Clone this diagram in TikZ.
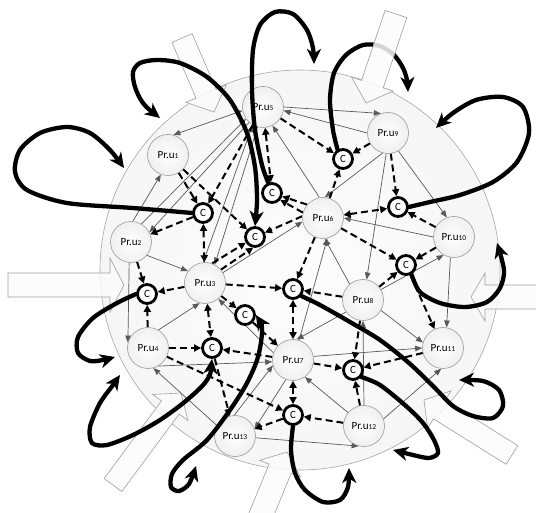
\documentclass[tikz,border=0pt]{standalone}
\usepackage{fontspec}
\setmainfont{Carlito}
\usetikzlibrary{arrows.meta,calc}
\pgfdeclarelayer{bg}
\pgfdeclarelayer{edges}
\pgfdeclarelayer{fg}
\pgfsetlayers{bg,edges,main,fg}
\newcommand{\pr}[1]{Pr.u{\fontsize{7.5}{8}\selectfont #1}}
\newcommand{\blockarr}[5]{%
  \path (#1) coordinate (bt) (#2) coordinate (bh);
  \path ($(bh)!#5pt!(bt)$) coordinate (bb);
  \draw[blk] ($(bt)!#3pt!90:(bh)$) -- ($(bb)!#3pt!-90:(bt)$) -- ($(bb)!#4pt!-90:(bt)$) -- (bh)
    -- ($(bb)!#4pt!90:(bt)$) -- ($(bb)!#3pt!90:(bt)$) -- ($(bt)!#3pt!-90:(bh)$) -- cycle;}
\tikzset{
  pnode/.style={circle, draw=gray!80, line width=0.6pt, minimum size=41pt, inner sep=0pt,
    inner color=white, outer color=gray!12, font=\fontsize{11}{12}\selectfont},
  cnode/.style={circle, draw=black, line width=2.8pt, minimum size=19pt, inner sep=0pt,
    fill=white, font=\fontsize{11}{11}\selectfont},
  garr/.style={draw=black!65, line width=0.7pt, -{Triangle[length=7pt,width=5.5pt]}},
  garrb/.style={garr, {Triangle[length=7pt,width=5.5pt]}-{Triangle[length=7pt,width=5.5pt]}},
  darr/.style={draw=black, line width=2pt, dash pattern=on 7pt off 4pt,
    -{Triangle[length=7pt,width=7pt]}},
  darrb/.style={darr, {Triangle[length=7pt,width=7pt]}-{Triangle[length=7pt,width=7pt]}},
  thk/.style={draw=black, line width=4.3pt, line cap=round, -{Stealth[length=15pt,width=14pt,inset=4.5pt]}},
  thkb/.style={thk, {Stealth[length=15pt,width=14pt,inset=4.5pt]}-{Stealth[length=15pt,width=14pt,inset=4.5pt]}},
  blk/.style={draw=gray!75, line width=0.6pt, fill=gray!3, fill opacity=0.85},
}
\begin{document}
\begin{tikzpicture}[x=1pt,y=-1pt]
\useasboundingbox (0,0) rectangle (536,513);
% nodes
\node[pnode] (u1) at (168,155) {\pr{1}};
\node[pnode] (u2) at (131,242) {\pr{2}};
\node[pnode] (u3) at (205,283) {\pr{3}};
\node[pnode] (u4) at (148,348) {\pr{4}};
\node[pnode] (u5) at (263,107) {\pr{5}};
\node[pnode] (u6) at (323,218) {\pr{6}};
\node[pnode] (u7) at (293,360) {\pr{7}};
\node[pnode] (u8) at (363,300) {\pr{8}};
\node[pnode] (u9) at (388,133) {\pr{9}};
\node[pnode] (u10) at (454,237) {\pr{10}};
\node[pnode] (u11) at (443,348) {\pr{11}};
\node[pnode] (u12) at (364,426) {\pr{12}};
\node[pnode] (u13) at (235,436) {\pr{13}};
\node[cnode] (c1) at (203,213) {C};
\node[cnode] (c2) at (255,237) {C};
\node[cnode] (c3) at (272,193) {C};
\node[cnode] (c4) at (343,159) {C};
\node[cnode] (c5) at (398,207) {C};
\node[cnode] (c6) at (406,265) {C};
\node[cnode] (c7) at (293,289) {C};
\node[cnode] (c8) at (147,294) {C};
\node[cnode] (c9) at (245,315) {C};
\node[cnode] (c10) at (212,348) {C};
\node[cnode] (c11) at (353,370) {C};
\node[cnode] (c12) at (293,415) {C};
% background
\begin{pgfonlayer}{bg}
\shade[inner color=gray!2, outer color=gray!7, draw=gray!70, line width=0.6pt] (300,270) circle [radius=200];
\blockarr{182,38}{214,112}{11}{22}{20}
\blockarr{8,285}{124,285}{12}{27}{14}
\blockarr{540,297}{471,297}{12}{24}{14}
\blockarr{512,455}{424,400}{11}{22}{18}
\blockarr{257,525}{287,452}{12}{22}{18}
\blockarr{113,485}{181,393}{11}{22}{18}
\end{pgfonlayer}
% edges
\begin{pgfonlayer}{edges}
\draw[garrb] (u5.190) -- (u1.75);
\draw[garr] (u2.85) -- (u1.250);
\draw[garr] (u2.60) -- (u5.215);
\draw[garr] (u5.228) -- (u2.28);
\draw[garr] (u3.95) -- (u5.240);
\draw[garr] (u5.255) -- (u3.62);
\draw[garr] (u5.0) -- (u9.110);
\draw[garr] (u9.180) -- (u5.-10);
\draw[garr] (u6.100) -- (u5.-63);
\draw[garr] (u9.-105) -- (u6.85);
\draw[garr] (u9.-60) -- (u10.110);
\draw[garr] (u9.-95) -- (u8.80);
\draw[garr] (u10.180) -- (u6.0);
\draw[garr] (u8.130) -- (u6.-85);
\draw[garr] (u7.73) -- (u6.-78);
\draw[garr] (u3.30) -- (u6.190);
\draw[garr] (u8.30) -- (u10.-120);
\draw[garr] (u10.-100) -- (u11.80);
\draw[garr] (u8.215) -- (u7.80);
\draw[garr] (u8.-30) -- (u11.165);
\draw[garr] (u7.10) -- (u11.180);
\draw[garr] (u12.90) -- (u8.-90);
\draw[garr] (u12.140) -- (u7.-55);
\draw[garr] (u12.20) -- (u11.-95);
\draw[garr] (u13.-5) -- (u12.-105);
\draw[garr] (u13.92) -- (u7.195);
\draw[garr] (u7.-110) -- (u13.20);
\draw[garr] (u13.150) -- (u4.-75);
\draw[garr] (u4.-60) -- (u7.185);
\draw[garr] (u4.60) -- (u3.255);
\draw[garr] (u2.-95) -- (u4.165);
\draw[garr] (u2.-40) -- (u3.145);
\draw[garr] (u7.160) -- (u3.-50);
% dashed
\draw[darr] (u1) -- (c1);
\draw[darr] (u5) -- (c1);
\draw[darrb] (c1) -- (u3);
\draw[darr] (c1) -- (u2);
\draw[darr] (u1) -- (c2);
\draw[darr] (u3.70) -- (c2);
\draw[darr] (u3.40) -- (c2.-100);
\draw[darr] (u6.175) -- (c2);
\draw[darrb] (u5) -- (c3);
\draw[darr] (u6.140) -- (c3);
\draw[darr] (u6.165) -- (c3.-40);
\draw[darr] (u5) -- (c4);
\draw[darr] (u9) -- (c4);
\draw[darr] (u6) -- (c4);
\draw[darr] (u9) -- (c5);
\draw[darrb] (u6) -- (c5);
\draw[darr] (u10) -- (c5);
\draw[darr] (u6) -- (c6);
\draw[darr] (u10) -- (c6);
\draw[darr] (u8) -- (c6);
\draw[darr] (c6) -- (u11);
\draw[darr] (u6) -- (c7);
\draw[darr] (u8) -- (c7);
\draw[darr] (u3) -- (c7);
\draw[darrb] (c7) -- (u7);
\draw[darr] (u2) -- (c8);
\draw[darr] (u3) -- (c8);
\draw[darr] (u4) -- (c8);
\draw[darr] (u3) -- (c9);
\draw[darr] (c9) -- (u7);
\draw[darr] (u4) -- (c10);
\draw[darrb] (u3) -- (c10);
\draw[darr] (u7) -- (c10);
\draw[darr] (c10) -- (u13);
\draw[darr] (u7) -- (c11);
\draw[darr] (u11) -- (c11);
\draw[darr] (u8) -- (c11);
\draw[darr] (u12) -- (c11);
\draw[darr] (u12) -- (c12);
\draw[darrb] (u7) -- (c12);
\draw[darr] (c12) -- (u13);
\draw[darr] (u4) -- (c12);
\end{pgfonlayer}
% thick loops
\begin{pgfonlayer}{fg}
\coordinate (ta) at (124,168);
\coordinate (tb) at (160,118);
\coordinate (tc) at (314,64);
\coordinate (td) at (408,92);
\coordinate (te) at (436,128);
\coordinate (tf) at (497,243);
\coordinate (tg) at (459,380);
\coordinate (th) at (393,450);
\coordinate (ti) at (349,468);
\coordinate (tj) at (196,466);
\coordinate (tk) at (120,375);
\coordinate (tl) at (115,357);
\draw[thk] plot[smooth] coordinates {(c1.west) (133,208) (67,203) (27,190) (15,172) (20,150) (40,133) (67,127) (90,133) (110,150) (ta)};
\draw[thkb] plot[smooth] coordinates {(tb) (143,103) (135,87) (133,72) (140,63) (157,60) (180,63) (207,77) (230,100) (247,133) (255,167) (257,200) (c2.north)};
\draw[thk] plot[smooth] coordinates {(c3.110) (262,165) (255,130) (252,90) (253,50) (260,25) (275,12) (293,14) (307,30) (313,48) (tc)};
\draw[thk] plot[smooth] coordinates {(c4.120) (333,130) (330,100) (334,73) (346,55) (363,45) (380,46) (394,55) (403,68) (407,80) (td)};
\draw[thk] plot[smooth] coordinates {(c5.east) (430,202) (460,195) (493,182) (517,162) (529,133) (523,107) (503,97) (476,100) (453,113) (te)};
\draw[thk] plot[smooth] coordinates {(c6.-60) (420,292) (440,303) (465,307) (487,302) (500,288) (504,270) (tf)};
\draw[thk] plot[smooth] coordinates {(c7.-40) (320,305) (350,322) (380,340) (409,363) (433,386) (453,406) (473,416) (493,418) (503,406) (499,390) (483,381) (tg)};
\draw[thk] plot[smooth] coordinates {(c11.-40) (380,385) (406,406) (423,423) (434,440) (438,453) (429,458) (413,455) (th)};
\draw[thk] plot[smooth] coordinates {(c12.south) (291,450) (295,473) (305,490) (323,502) (340,500) (348,487) (ti)};
\draw[thkb] plot[smooth] coordinates {(c9.east) (262,330) (258,357) (247,383) (230,410) (207,440) (183,460) (172,474) (171,487) (179,491) (189,484) (tj)};
\draw[thkb] plot[smooth] coordinates {(c10.south) (207,380) (187,400) (160,420) (133,435) (107,445) (92,443) (90,427) (100,403) (113,385) (tk)};
\draw[thk] plot[smooth] coordinates {(c8.west) (117,303) (93,318) (78,337) (78,353) (90,361) (103,360) (tl)};
\blockarr{396,14}{366,103}{11.5}{22}{20}
\end{pgfonlayer}
\end{tikzpicture}
\end{document}
